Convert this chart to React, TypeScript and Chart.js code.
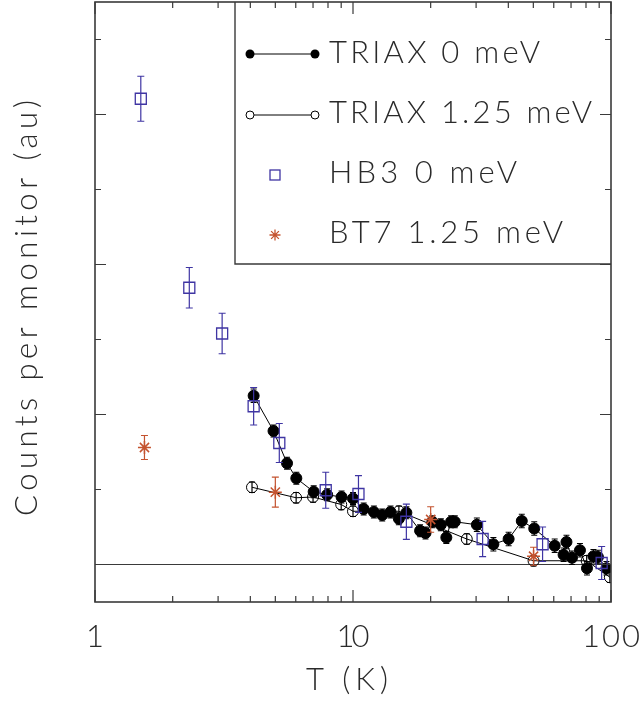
import React, { useEffect, useRef } from "react";
import { Chart, registerables } from "chart.js";
Chart.register(...registerables);

// ---- data ----
const triax0T = [4.12, 4.92, 5.55, 6.03, 7.04, 7.94, 9.03, 10.0, 11.0, 12.05, 12.98, 13.98, 15.06, 16.1, 18.2, 19.1, 20.3, 21.9, 23.0, 24.0, 24.8, 30.2, 35.0, 40.1, 45.1, 50.4, 60.5, 65.5, 67.2, 70.6, 75.8, 80.7, 85.5, 89.0, 96.0];
const triax0Y = [2.25, 1.78, 1.35, 1.15, 0.97, 0.93, 0.9, 0.88, 0.74, 0.7, 0.66, 0.7, 0.61, 0.69, 0.45, 0.42, 0.57, 0.53, 0.36, 0.57, 0.57, 0.53, 0.27, 0.34, 0.58, 0.48, 0.25, 0.13, 0.3, 0.09, 0.19, -0.05, 0.11, 0.1, -0.05];
const triax0Err = [0.09, 0.08, 0.08, 0.08, 0.08, 0.08, 0.08, 0.08, 0.08, 0.08, 0.08, 0.08, 0.08, 0.08, 0.08, 0.08, 0.08, 0.08, 0.08, 0.08, 0.08, 0.09, 0.09, 0.09, 0.09, 0.09, 0.09, 0.09, 0.09, 0.09, 0.09, 0.09, 0.09, 0.09, 0.09];

const triax125T = [4.06, 6.02, 7.0, 9.0, 10.0, 15.06, 27.6, 50.1, 80.5, 99.0];
const triax125Y = [1.03, 0.89, 0.9, 0.8, 0.71, 0.71, 0.34, 0.05, 0.05, -0.17];
const triax125Err = [0.07, 0.07, 0.07, 0.07, 0.07, 0.07, 0.07, 0.07, 0.07, 0.07];

const hb3T = [1.505, 2.32, 3.11, 4.12, 5.18, 7.84, 10.5, 16.1, 31.8, 54.3, 92.0];
const hb3Y = [6.21, 3.69, 3.08, 2.11, 1.62, 0.99, 0.94, 0.57, 0.34, 0.27, 0.02];
const hb3Err = [0.3, 0.27, 0.27, 0.25, 0.26, 0.24, 0.245, 0.235, 0.235, 0.23, 0.22];

const bt7T = [1.555, 5.0, 20.0, 50.1];
const bt7Y = [1.56, 0.965, 0.6, 0.11];
const bt7Err = [0.16, 0.2, 0.17, 0.12];

const seriesLabels = ["TRIAX 0 meV", "TRIAX 1.25 meV", "HB3 0 meV", "BT7 1.25 meV"];

const xMajorTicks = [1, 10, 100];
const xMinorTicks = [2, 3, 4, 5, 6, 7, 8, 9, 20, 30, 40, 50, 60, 70, 80, 90];
const xTickLabels = ["1", "10", "100"];
const yMajorTicks = [0, 2, 4, 6];
const yMinorTicks = [1, 3, 5, 7];
const xTitle = "T (K)";
const yTitle = "Counts per monitor (au)";

// ---- styles ----
const HB3_COLOR = "#3f35a3";
const BT7_COLOR = "#c4532f";
const AXIS_COLOR = "#3a3a3a";
const TEXT_COLOR = "#2a2a2a";
const FONT = '300 31px Lato, "DejaVu Sans", sans-serif';

function fitText(ctx: CanvasRenderingContext2D, text: string, x: number, y: number, width: number, align: string) {
  ctx.save();
  (ctx as any).letterSpacing = "0px";
  const m = ctx.measureText(text).width;
  const n = text.length;
  let w = width;
  if (n > 1) {
    (ctx as any).letterSpacing = (width - m) / (n - 1) + "px";
  } else {
    w = m;
  }
  ctx.textAlign = "left";
  const x0 = align === "center" ? x - w / 2 : align === "right" ? x - w : x;
  ctx.fillText(text, x0, y);
  ctx.restore();
}

const idlPlugin = {
  id: "idlPlugin",
  beforeDatasetsDraw(chart: any) {
    const { ctx, chartArea } = chart;
    const ys = chart.scales.y;
    ctx.save();
    ctx.strokeStyle = AXIS_COLOR;
    ctx.lineWidth = 1.2;
    const y0 = ys.getPixelForValue(0);
    ctx.beginPath();
    ctx.moveTo(chartArea.left, y0);
    ctx.lineTo(chartArea.right, y0);
    ctx.stroke();
    ctx.restore();
  },
  beforeDatasetDraw(chart: any, args: any) {
    const ds = chart.data.datasets[args.index];
    if (!ds.errors) return;
    const { ctx, chartArea } = chart;
    const xs = chart.scales.x;
    const ys = chart.scales.y;
    ctx.save();
    ctx.beginPath();
    ctx.rect(chartArea.left, chartArea.top, chartArea.right - chartArea.left, chartArea.bottom - chartArea.top);
    ctx.clip();
    ctx.strokeStyle = ds.errColor;
    ctx.lineWidth = 1.2;
    const hw = ds.capHalf;
    ds.data.forEach((p: any, i: number) => {
      const e = ds.errors[i];
      const px = xs.getPixelForValue(p.x);
      const y1 = ys.getPixelForValue(p.y - e);
      const y2 = ys.getPixelForValue(p.y + e);
      ctx.beginPath();
      ctx.moveTo(px, y1);
      ctx.lineTo(px, y2);
      ctx.moveTo(px - hw, y1);
      ctx.lineTo(px + hw, y1);
      ctx.moveTo(px - hw, y2);
      ctx.lineTo(px + hw, y2);
      ctx.stroke();
    });
    ctx.restore();
  },
  afterDraw(chart: any) {
    const { ctx, chartArea } = chart;
    const { left, right, top, bottom } = chartArea;
    const xs = chart.scales.x;
    const ys = chart.scales.y;
    ctx.save();
    // frame
    ctx.strokeStyle = AXIS_COLOR;
    ctx.lineWidth = 1.6;
    ctx.strokeRect(left, top, right - left, bottom - top);
    ctx.lineWidth = 1.2;
    ctx.beginPath();
    const tick = (v: number, len: number) => {
      const px = xs.getPixelForValue(v);
      ctx.moveTo(px, bottom);
      ctx.lineTo(px, bottom - len);
      ctx.moveTo(px, top);
      ctx.lineTo(px, top + len);
    };
    xMajorTicks.forEach((v) => tick(v, 12));
    xMinorTicks.forEach((v) => tick(v, 6));
    const ytick = (v: number, len: number) => {
      const py = ys.getPixelForValue(v);
      ctx.moveTo(left, py);
      ctx.lineTo(left + len, py);
      ctx.moveTo(right, py);
      ctx.lineTo(right - len, py);
    };
    yMajorTicks.forEach((v) => ytick(v, 11));
    yMinorTicks.forEach((v) => ytick(v, 6));
    ctx.stroke();

    // tick labels
    ctx.fillStyle = TEXT_COLOR;
    ctx.font = FONT;
    ctx.textBaseline = "alphabetic";
    const labelW = [10, 33, 58];
    xMajorTicks.forEach((v, i) => {
      fitText(ctx, xTickLabels[i], xs.getPixelForValue(v), 647, labelW[i], "center");
    });
    // x title
    fitText(ctx, xTitle, (left + right) / 2 - 6, 690, 82, "center");
    // y title
    ctx.save();
    ctx.translate(37, 516);
    ctx.rotate(-Math.PI / 2);
    fitText(ctx, yTitle, 0, 0, 416, "left");
    ctx.restore();

    // legend box
    const lx = 235;
    const lb = 264;
    ctx.strokeStyle = AXIS_COLOR;
    ctx.lineWidth = 1.4;
    ctx.beginPath();
    ctx.moveTo(lx, top);
    ctx.lineTo(lx, lb);
    ctx.lineTo(right, lb);
    ctx.stroke();

    ctx.strokeStyle = "#000";
    ctx.fillStyle = "#000";
    ctx.lineWidth = 1;
    // row 1
    ctx.beginPath();
    ctx.moveTo(250, 54);
    ctx.lineTo(315, 54);
    ctx.stroke();
    [250, 315].forEach((cx) => {
      ctx.beginPath();
      ctx.arc(cx, 54, 4.5, 0, Math.PI * 2);
      ctx.fill();
    });
    // row 2
    ctx.beginPath();
    ctx.moveTo(254, 115);
    ctx.lineTo(311, 115);
    ctx.stroke();
    [250, 315].forEach((cx) => {
      ctx.beginPath();
      ctx.arc(cx, 115, 4, 0, Math.PI * 2);
      ctx.stroke();
    });
    // row 3
    ctx.strokeStyle = HB3_COLOR;
    ctx.lineWidth = 1.3;
    ctx.strokeRect(270, 170, 10, 10);
    // row 4
    ctx.strokeStyle = BT7_COLOR;
    ctx.beginPath();
    const r = 5.5;
    for (let k = 0; k < 4; k++) {
      const a = (k * Math.PI) / 4;
      ctx.moveTo(275 - r * Math.cos(a), 235 - r * Math.sin(a));
      ctx.lineTo(275 + r * Math.cos(a), 235 + r * Math.sin(a));
    }
    ctx.stroke();

    ctx.fillStyle = TEXT_COLOR;
    ctx.font = FONT;
    fitText(ctx, seriesLabels[0], 329, 63, 211, "left");
    fitText(ctx, seriesLabels[1], 329, 123, 263, "left");
    fitText(ctx, seriesLabels[2], 329, 183, 188, "left");
    fitText(ctx, seriesLabels[3], 329, 243, 234, "left");
    ctx.restore();
  },
};

export default function App() {
  const ref = useRef<HTMLCanvasElement | null>(null);
  useEffect(() => {
    const canvas = ref.current;
    if (!canvas) return;
    const pts = (xs: number[], ys: number[]) => xs.map((x, i) => ({ x, y: ys[i] }));
    const chart = new Chart(canvas, {
      type: "scatter",
      data: {
        datasets: [
          {
            label: seriesLabels[0],
            data: pts(triax0T, triax0Y),
            showLine: true,
            borderColor: "#000",
            borderWidth: 1,
            pointRadius: 5.5,
            pointBackgroundColor: "#000",
            pointBorderColor: "#000",
            pointBorderWidth: 1,
            clip: 0,
            order: 2,
            errors: triax0Err,
            errColor: "#000",
            capHalf: 3,
          },
          {
            label: seriesLabels[1],
            data: pts(triax125T, triax125Y),
            showLine: true,
            borderColor: "#000",
            borderWidth: 1,
            pointRadius: 5.5,
            pointBackgroundColor: "rgba(0,0,0,0)",
            pointBorderColor: "#000",
            pointBorderWidth: 1,
            clip: 0,
            order: 3,
            errors: triax125Err,
            errColor: "#000",
            capHalf: 3,
          },
          {
            label: seriesLabels[2],
            data: pts(hb3T, hb3Y),
            showLine: false,
            pointStyle: "rect",
            pointRadius: 7.8,
            pointBackgroundColor: "rgba(0,0,0,0)",
            pointBorderColor: HB3_COLOR,
            pointBorderWidth: 1.3,
            borderColor: HB3_COLOR,
            clip: 0,
            order: 1,
            errors: hb3Err,
            errColor: HB3_COLOR,
            capHalf: 3.5,
          },
          {
            label: seriesLabels[3],
            data: pts(bt7T, bt7Y),
            showLine: false,
            pointStyle: "star",
            pointRadius: 6.5,
            pointBackgroundColor: "rgba(0,0,0,0)",
            pointBorderColor: BT7_COLOR,
            pointBorderWidth: 1.5,
            borderColor: BT7_COLOR,
            clip: 0,
            order: 0,
            errors: bt7Err,
            errColor: BT7_COLOR,
            capHalf: 3.5,
          },
        ] as any,
      },
      options: {
        animation: false,
        responsive: false,
        devicePixelRatio: 1,
        events: [],
        layout: { autoPadding: false, padding: { left: 95, right: 29, top: 2, bottom: 100 } },
        scales: {
          x: { type: "logarithmic", min: 1, max: 100, display: false },
          y: { type: "linear", min: -0.5, max: 7.5, display: false },
        },
        plugins: { legend: { display: false }, tooltip: { enabled: false } },
      },
      plugins: [idlPlugin as any],
    });
    return () => chart.destroy();
  }, []);
  return (
    <div style={{ position: "absolute", left: 0, top: 0, width: 640, height: 702, background: "#fff" }}>
      <canvas ref={ref} width={640} height={702} style={{ width: 640, height: 702, display: "block" }} />
    </div>
  );
}
